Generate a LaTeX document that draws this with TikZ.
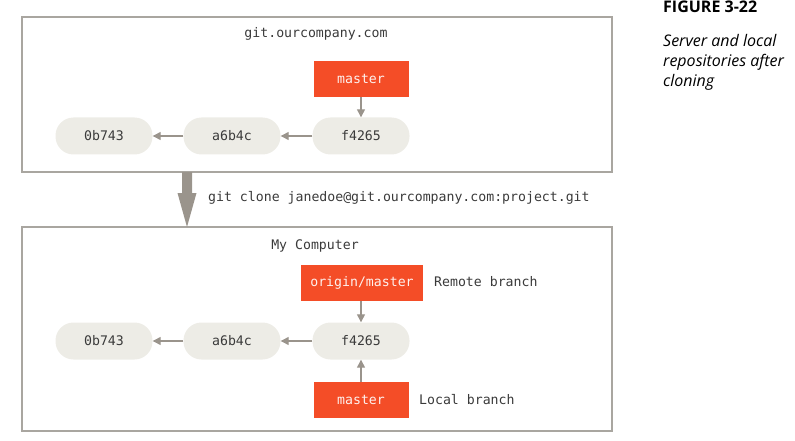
\documentclass[tikz,border=0pt]{standalone}
\usepackage{fontspec}
\setmonofont{DejaVu Sans Mono}
\newfontfamily\capfont{Open Sans}
\usetikzlibrary{arrows.meta}
\definecolor{brorange}{HTML}{F44D27}
\definecolor{commitfill}{HTML}{EDECE6}
\definecolor{arrowgray}{HTML}{9A948C}
\definecolor{framegray}{HTML}{A9A6A0}
\definecolor{txtgray}{HTML}{3A3A3A}
\tikzset{
  commit/.style={draw=none, fill=commitfill, rounded corners=18pt, minimum width=97pt, minimum height=37pt, inner sep=0pt, font=\ttfamily\fontsize{13.2}{15}\selectfont, text=txtgray},
  branchbox/.style={draw=none, fill=brorange, minimum height=36pt, inner sep=0pt, font=\ttfamily\fontsize{13.2}{15}\selectfont, text=white!92!brorange},
  plain/.style={inner sep=0pt, font=\ttfamily\fontsize{13.2}{15}\selectfont, text=txtgray},
  capline/.style={anchor=base west, inner sep=0pt, font=\capfont\itshape\fontsize{16}{20}\selectfont, text=black},
  repo/.style={draw=framegray, line width=1.2pt},
  link/.style={draw=arrowgray, line width=1.3pt, -{Triangle[length=8pt,width=8pt]}},
  bigarrow/.style={fill=arrowgray, draw=none}
}
\begin{document}
\begin{tikzpicture}[x=1pt,y=-1pt]
\useasboundingbox (0,0) rectangle (795,441);
% repository frames
\draw[repo] (22,17) rectangle (612,172);
\draw[repo] (22,227) rectangle (612,431);
% caption
\node[anchor=base west, inner sep=0pt, font=\capfont\bfseries\fontsize{16}{19}\selectfont, text=black] (fig) at (663,12.5) {FIGURE 3-22};
\node[capline] (cap1) at (663,47) {Server and local};
\node[capline] (cap2) at (663,67) {repositories after};
\node[capline] (cap3) at (663,87) {cloning};
% server
\node[plain] (server) at (316,34) {git.ourcompany.com};
\node[branchbox, minimum width=95pt] (smaster) at (361,79) {master};
\node[commit] (s1) at (104,136) {0b743};
\node[commit] (s2) at (232,136) {a6b4c};
\node[commit] (s3) at (361,136) {f4265};
\draw[link] (smaster) -- (s3);
\draw[link] (s3) -- (s2);
\draw[link] (s2) -- (s1);
% clone arrow
\coordinate (ca) at (187,172);
\coordinate (cb) at (187,227);
\fill[bigarrow] (182,172) -- (192,172) -- (192,193) -- (196.5,193) -- (cb) -- (177.5,193) -- (182,193) -- cycle;
\node[plain, anchor=west] (clone) at (208,198) {git clone janedoe@git.ourcompany.com:project.git};
% local
\node[plain] (local) at (315,246) {My Computer};
\node[branchbox, minimum width=122pt] (omaster) at (362,283) {origin/master};
\node[plain, anchor=west] (remote) at (434,282) {Remote branch};
\node[commit] (l1) at (104,341) {0b743};
\node[commit] (l2) at (232,341) {a6b4c};
\node[commit] (l3) at (361,341) {f4265};
\node[branchbox, minimum width=95pt] (lmaster) at (361,400) {master};
\node[plain, anchor=west] (localb) at (419,400) {Local branch};
\draw[link] (omaster.south -| l3) -- (l3);
\draw[link] (lmaster) -- (l3);
\draw[link] (l3) -- (l2);
\draw[link] (l2) -- (l1);
\end{tikzpicture}
\end{document}
